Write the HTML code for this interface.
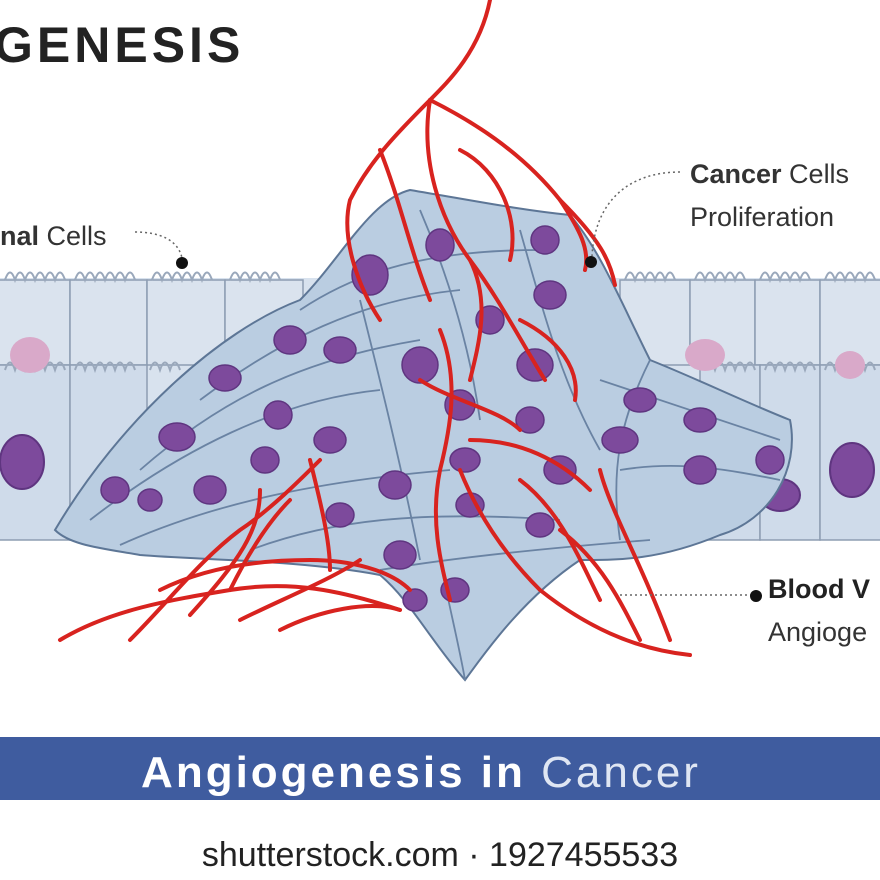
<!DOCTYPE html>
<html><head><meta charset="utf-8"><style>
html,body{margin:0;padding:0;background:#fff;width:880px;height:880px;overflow:hidden}
svg{display:block}
text{font-family:"Liberation Sans","DejaVu Sans",sans-serif}
</style></head><body>
<svg width="880" height="880" viewBox="0 0 880 880" xmlns="http://www.w3.org/2000/svg">
<rect width="880" height="880" fill="#fff"/>
<g stroke="#8d9db2" stroke-width="1.5" fill="#dae3ee">
<rect x="-5" y="278" width="890" height="262" fill="#d8e2ee" stroke="none"/>
<rect x="-5" y="280" width="75" height="85"/><rect x="70" y="280" width="77" height="85"/><rect x="147" y="280" width="78" height="85"/><rect x="225" y="280" width="78" height="85"/>
<rect x="620" y="280" width="70" height="85"/><rect x="690" y="280" width="65" height="85"/><rect x="755" y="280" width="65" height="85"/><rect x="820" y="280" width="65" height="85"/>
<rect x="-5" y="365" width="75" height="175" fill="#cfdbea"/><rect x="70" y="365" width="77" height="175" fill="#cfdbea"/>
<rect x="700" y="365" width="60" height="175" fill="#cfdbea"/><rect x="760" y="365" width="60" height="175" fill="#cfdbea"/><rect x="820" y="365" width="65" height="175" fill="#cfdbea"/>
</g>
<g fill="none" stroke="#9aa8bb" stroke-width="2">
<path d="M5 280 q5-15 10 0 q5-15 10 0 q5-15 10 0 q5-15 10 0 q5-15 10 0 q5-15 10 0 M75 280 q5-15 10 0 q5-15 10 0 q5-15 10 0 q5-15 10 0 q5-15 10 0 q5-15 10 0 M152 280 q5-15 10 0 q5-15 10 0 q5-15 10 0 q5-15 10 0 q5-15 10 0 q5-15 10 0 M230 280 q5-15 10 0 q5-15 10 0 q5-15 10 0 q5-15 10 0 q5-15 10 0"/>
<path d="M625 280 q5-15 10 0 q5-15 10 0 q5-15 10 0 q5-15 10 0 q5-15 10 0 M695 280 q5-15 10 0 q5-15 10 0 q5-15 10 0 q5-15 10 0 q5-15 10 0 M760 280 q5-15 10 0 q5-15 10 0 q5-15 10 0 q5-15 10 0 q5-15 10 0 M825 280 q5-15 10 0 q5-15 10 0 q5-15 10 0 q5-15 10 0 q5-15 10 0"/>
<path d="M5 370 q5-15 10 0 q5-15 10 0 q5-15 10 0 q5-15 10 0 q5-15 10 0 q5-15 10 0 M75 370 q5-15 10 0 q5-15 10 0 q5-15 10 0 q5-15 10 0 q5-15 10 0 q5-15 10 0 M150 370 q5-15 10 0 q5-15 10 0 q5-15 10 0"/>
<path d="M705 370 q5-15 10 0 q5-15 10 0 q5-15 10 0 q5-15 10 0 q5-15 10 0 M765 370 q5-15 10 0 q5-15 10 0 q5-15 10 0 q5-15 10 0 q5-15 10 0 M825 370 q5-15 10 0 q5-15 10 0 q5-15 10 0 q5-15 10 0 q5-15 10 0"/>
</g>
<ellipse cx="30" cy="355" rx="20" ry="18" fill="#d9a9c9"/><ellipse cx="705" cy="355" rx="20" ry="16" fill="#d9a9c9"/><ellipse cx="850" cy="365" rx="15" ry="14" fill="#d9a9c9"/>
<g fill="#7d4a9c" stroke="#5f3580" stroke-width="2">
<ellipse cx="22" cy="462" rx="22" ry="27"/><ellipse cx="852" cy="470" rx="22" ry="27"/><ellipse cx="780" cy="495" rx="20" ry="16"/>
</g>
<path d="M55 530 C120 420 220 330 300 300 C340 260 370 200 410 190 C470 200 520 210 570 215 C600 250 620 300 650 360 C700 380 740 400 790 420 C800 470 770 520 720 535 C660 560 620 560 580 560 C520 600 480 660 465 680 C430 640 410 600 380 575 C300 560 200 560 140 555 C100 548 70 545 55 530 Z" fill="#bacde1" stroke="#5d7696" stroke-width="2"/>
<g fill="none" stroke="#6a83a3" stroke-width="1.8">
<path d="M90 520 C180 450 280 400 380 390"/><path d="M140 470 C220 400 300 360 420 340"/><path d="M200 400 C280 340 360 300 460 290"/><path d="M300 310 C360 270 430 250 540 250"/>
<path d="M120 545 C220 500 330 480 450 470"/><path d="M250 550 C330 520 420 510 560 520"/><path d="M380 570 C440 560 520 550 650 540"/>
<path d="M420 210 C450 280 470 350 480 420"/><path d="M520 230 C540 300 560 380 600 450"/><path d="M600 380 C660 400 720 420 780 440"/><path d="M620 470 C680 460 730 470 780 480"/>
<path d="M360 300 C380 380 400 460 420 560"/><path d="M440 560 C450 610 460 650 465 680"/><path d="M650 360 C620 420 610 470 620 540"/>
</g>
<g fill="#7d4a9c" stroke="#5f3580" stroke-width="1.5">
<ellipse cx="370" cy="275" rx="18" ry="20"/><ellipse cx="440" cy="245" rx="14" ry="16"/><ellipse cx="545" cy="240" rx="14" ry="14"/><ellipse cx="550" cy="295" rx="16" ry="14"/>
<ellipse cx="290" cy="340" rx="16" ry="14"/><ellipse cx="340" cy="350" rx="16" ry="13"/><ellipse cx="420" cy="365" rx="18" ry="18"/><ellipse cx="490" cy="320" rx="14" ry="14"/><ellipse cx="535" cy="365" rx="18" ry="16"/>
<ellipse cx="225" cy="378" rx="16" ry="13"/><ellipse cx="177" cy="437" rx="18" ry="14"/><ellipse cx="278" cy="415" rx="14" ry="14"/><ellipse cx="460" cy="405" rx="15" ry="15"/><ellipse cx="530" cy="420" rx="14" ry="13"/>
<ellipse cx="640" cy="400" rx="16" ry="12"/><ellipse cx="700" cy="420" rx="16" ry="12"/><ellipse cx="620" cy="440" rx="18" ry="13"/><ellipse cx="700" cy="470" rx="16" ry="14"/><ellipse cx="770" cy="460" rx="14" ry="14"/>
<ellipse cx="115" cy="490" rx="14" ry="13"/><ellipse cx="210" cy="490" rx="16" ry="14"/><ellipse cx="265" cy="460" rx="14" ry="13"/><ellipse cx="330" cy="440" rx="16" ry="13"/><ellipse cx="395" cy="485" rx="16" ry="14"/>
<ellipse cx="465" cy="460" rx="15" ry="12"/><ellipse cx="560" cy="470" rx="16" ry="14"/><ellipse cx="340" cy="515" rx="14" ry="12"/><ellipse cx="470" cy="505" rx="14" ry="12"/><ellipse cx="540" cy="525" rx="14" ry="12"/>
<ellipse cx="400" cy="555" rx="16" ry="14"/><ellipse cx="455" cy="590" rx="14" ry="12"/><ellipse cx="415" cy="600" rx="12" ry="11"/><ellipse cx="150" cy="500" rx="12" ry="11"/>
</g>
<g fill="none" stroke="#d8231f" stroke-width="4" stroke-linecap="round">
<path d="M490 0 C480 50 450 80 430 100 C400 130 370 160 350 200 C340 240 360 290 380 320"/>
<path d="M430 100 C420 160 440 220 470 260 C490 300 480 340 470 380"/>
<path d="M430 100 C470 120 520 150 560 200 C600 240 610 260 615 285"/>
<path d="M460 150 C500 170 520 220 510 260"/><path d="M380 150 C400 200 410 250 430 300"/>
<path d="M560 200 C580 230 590 250 585 270"/>
<path d="M470 260 C500 300 520 340 545 380"/><path d="M520 320 C560 340 580 370 575 400"/>
<path d="M440 330 C460 380 450 430 440 470 C430 520 440 560 450 600"/>
<path d="M420 380 C450 400 500 410 520 430"/>
<path d="M460 470 C480 520 510 560 540 590 C590 630 640 650 690 655"/>
<path d="M520 480 C560 510 580 560 600 600"/><path d="M560 530 C600 560 620 600 640 640"/>
<path d="M600 470 C610 510 640 560 670 640"/><path d="M470 440 C520 440 560 460 590 490"/>
<path d="M60 640 C110 610 170 600 230 590 C290 580 340 590 400 610"/>
<path d="M130 640 C170 600 200 560 240 530 C270 510 300 480 320 460"/>
<path d="M230 590 C250 550 270 520 290 500"/><path d="M190 615 C240 560 260 530 260 490"/>
<path d="M160 590 C200 570 250 560 310 560 C350 560 390 570 410 590"/>
<path d="M240 620 C280 600 330 580 360 560"/><path d="M280 630 C320 610 370 600 400 610"/>
<path d="M310 460 C320 500 330 540 330 570"/>
</g>
<text x="-6" y="62" font-size="50" font-weight="bold" fill="#222" letter-spacing="4">GENESIS</text>
<text x="0" y="245" font-size="27" fill="#333"><tspan font-weight="bold">nal</tspan> Cells</text>
<path d="M135 232 C160 232 178 240 182 258" fill="none" stroke="#666" stroke-width="1.5" stroke-dasharray="2 3"/>
<circle cx="182" cy="263" r="6" fill="#111"/>
<text x="690" y="183" font-size="27" fill="#333"><tspan font-weight="bold">Cancer</tspan> Cells</text>
<text x="690" y="226" font-size="27" fill="#333">Proliferation</text>
<path d="M680 172 C630 172 595 200 592 256" fill="none" stroke="#666" stroke-width="1.5" stroke-dasharray="2 3"/>
<circle cx="591" cy="262" r="6" fill="#111"/>
<text x="768" y="598" font-size="27" fill="#222" font-weight="bold">Blood V</text>
<text x="768" y="641" font-size="27" fill="#333">Angioge</text>
<path d="M620 595 L752 595" fill="none" stroke="#666" stroke-width="1.5" stroke-dasharray="2 3"/>
<circle cx="756" cy="596" r="6" fill="#111"/>
<rect x="0" y="737" width="880" height="63" fill="#3f5c9f"/>
<text x="421" y="787" font-size="44" fill="#fff" text-anchor="middle" letter-spacing="3"><tspan font-weight="bold">Angiogenesis in</tspan> <tspan fill="#dfe6f3">Cancer</tspan></text>
<text x="440" y="866" font-size="34" fill="#222" text-anchor="middle">shutterstock.com · 1927455533</text>
</svg>
</body></html>
